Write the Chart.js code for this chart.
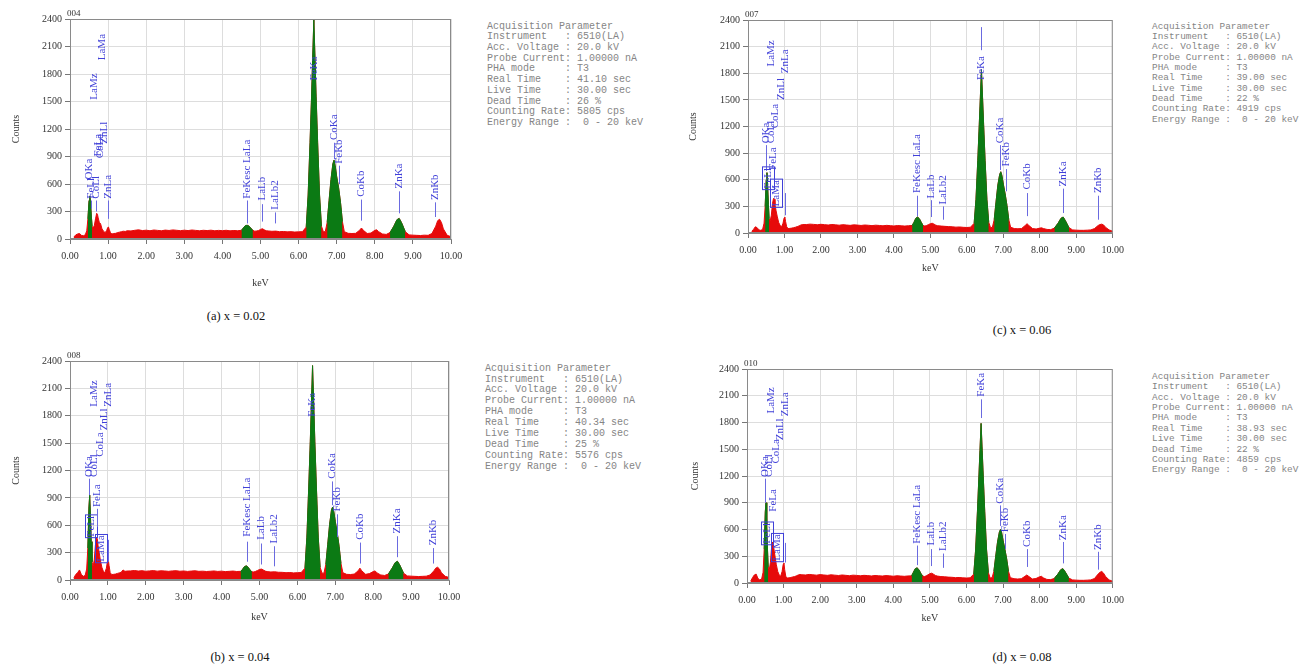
<!DOCTYPE html>
<html><head><meta charset="utf-8">
<script src="https://cdn.jsdelivr.net/npm/chart.js@4.4.0/dist/chart.umd.min.js"></script>
<style>
html,body{margin:0;padding:0;background:#fff;}
body{width:1299px;height:665px;position:relative;overflow:hidden;}
canvas{position:absolute;}
.params{position:absolute;font-family:"Liberation Mono",monospace;color:#858585;white-space:pre;margin:0;}
.cap{position:absolute;width:240px;text-align:center;font-family:"Liberation Serif",serif;font-size:12.5px;line-height:16px;color:#111;}
</style></head><body>
<script>
// ---- shared energy axis (keV) ----
const energy = [
 0.10,0.15,0.20,0.25,0.30,0.35,0.40,0.44,0.47,
 0.50,0.52,0.54,0.56,0.58,0.61,0.64,0.67,0.70,0.72,0.74,0.77,0.80,0.84,0.88,0.92,0.96,0.99,1.01,1.03,1.06,1.10,1.15,1.20,1.25,1.30,1.35,1.40,1.45,1.50,
 1.6,1.7,1.8,1.9,2.0,2.1,2.2,2.3,2.4,2.5,2.6,2.7,2.8,2.9,3.0,3.1,3.2,3.3,3.4,3.5,3.6,3.7,3.8,3.9,4.0,4.1,4.2,4.3,4.4,
 4.50,4.55,4.60,4.65,4.70,4.75,4.80,4.85,4.90,4.95,5.00,5.05,5.10,5.15,5.20,5.30,5.40,5.50,5.60,5.70,5.80,5.90,6.00,6.10,
 6.20,6.25,6.30,6.34,6.37,6.40,6.43,6.46,6.50,6.55,6.60,6.65,6.70,6.75,6.80,6.85,6.90,6.93,6.96,7.00,7.05,7.10,7.15,7.20,7.30,
 7.40,7.50,7.60,7.65,7.70,7.80,7.90,8.00,8.05,8.10,8.20,8.30,8.40,8.50,8.58,8.64,8.70,8.80,8.90,9.00,9.10,9.20,9.30,9.40,9.50,9.60,9.65,9.70,9.75,9.80,9.90,10.00
];

// ---- counts per sample ----
const countsA = [
 20,45,55,60,40,35,45,90,220,
 420,470,390,250,140, 120,150,220,280,270, 230,180,170,110,85, 70,90,125,130,105, 70,55,60,62,70, 75,80,85,82,90,
 88,95,100,92,96, 90,98,94,90,97, 93,99,95,91,96, 92,98,94,90,95, 92,96,90,94,91, 95,89,93,90,
 95,120,145,150,140, 115,95,85,88,92, 105,112,100,90,88, 84,86,80,82,78, 80,76,78,80,
 130,480,1050,1550,1980, 2390,1980,1550,1050,480, 140,80,80,180,420, 650,820,860,800,680, 560,400,190,80,62,
 60,62,95,120,95, 60,65,95,100,80, 55,50,70,140,210, 225,180,80,45,42, 40,38,42,40,60, 140,200,215,180,110, 40,25
];
const countsB = [
 20,60,80,110,60,40,50,120,350,
 800,930,700,420,200, 150,220,380,470,450, 380,300,220,140,95, 80,130,210,225,160, 80,60,62,65,72, 78,85,110,95,98,
 100,104,98,102,96, 100,103,97,101,99, 95,100,102,96,99, 94,98,101,95,97, 93,96,99,94,97, 92,95,98,93,
 95,115,145,155,140, 110,90,88,95,105, 115,120,110,98,92, 88,90,85,84,80, 82,78,80,82,
 130,470,1030,1520,1940, 2350,1940,1520,1030,470, 140,75,75,170,390, 610,770,800,750,640, 520,370,180,80,62,
 60,65,100,130,100, 62,70,92,100,78, 55,50,65,130,190, 205,165,75,45,42, 40,38,40,42,55, 100,130,140,120,80, 40,28
];
const countsC = [
 20,40,70,60,35,30,40,110,300,
 600,680,520,320,160, 140,200,330,390,380, 320,250,190,120,85, 70,110,170,180,130, 70,50,52,55,60, 65,72,80,90,95,
 95,100,97,93,98, 94,90,96,92,88, 94,90,86,92,89, 85,90,87,83,88, 85,81,86,83,79, 84,81,78,82,
 85,120,165,180,160, 120,85,78,85,95, 105,110,100,88,82, 78,75,72,70,66, 68,64,62,65,
 110,380,820,1220,1530, 1840,1530,1220,820,380, 120,60,65,150,350, 540,660,690,650,550, 440,310,150,65,50,
 48,50,85,105,85, 50,45,55,58,50, 40,38,55,110,165, 180,140,60,35,32, 30,30,32,35,50, 85,95,100,90,65, 35,20
];
const countsD = [
 20,60,90,100,50,35,45,120,380,
 800,900,650,380,180, 150,230,390,460,440, 370,290,210,130,90, 75,130,210,225,150, 75,55,58,62,68, 72,80,90,95,92,
 90,96,92,88,94, 90,86,92,88,84, 90,86,82,88,85, 81,86,83,79,84, 81,78,83,80,76, 81,78,75,79,
 80,120,160,170,150, 110,80,72,80,92, 105,110,98,85,78, 72,70,66,64,60, 62,58,56,58,
 100,370,800,1190,1490, 1790,1490,1190,800,370, 115,55,60,130,300, 460,570,600,570,480, 380,270,130,60,48,
 45,48,75,90,75, 45,50,70,75,58, 40,38,50,100,150, 160,125,55,35,32, 30,30,32,35,50, 100,120,130,110,75, 35,20
];

// element integration windows (keV) shown in green
const peakWindows = [[0.47,0.58],[4.50,4.80],[6.20,6.60],[6.75,7.15],[8.40,8.80]];

// tick labels
const xTicks = [0,1,2,3,4,5,6,7,8,9,10];
const yTicks = [0,300,600,900,1200,1500,1800,2100,2400];

// peak markers: [text, keV, line from (counts), line to (counts), text start (counts), boxed]
const labelsA = [
 ['OKa',0.50,null,null,650],['FeLl',0.54,330,420,440],['CoLl',0.68,300,420,440],
 ['FeLa',0.74,null,null,900],['CoLa',0.79,null,null,880],['LaMz',0.64,null,null,1520],
 ['LaMa',0.84,null,null,1950],['ZnLl',0.90,null,null,1040],['ZnLa',1.01,220,420,440],
 ['FeKesc LaLa',4.64,170,420,440],['LaLb',5.04,190,380,420],['LaLb2',5.38,170,290,320],
 ['FeKa',6.40,null,null,1730],['CoKa',6.93,870,1050,1080],['FeKb',7.06,600,800,820],
 ['CoKb',7.65,200,430,460],['ZnKa',8.64,280,520,550],['ZnKb',9.57,240,400,425]
];
const labelsB = [
 ['OKa',0.49,930,1110,1130],['FeLl',0.55,null,null,475,true],['CoLl',0.64,null,null,1130],
 ['FeLa',0.71,580,780,800],['CoLa',0.78,null,null,1350],['LaMz',0.64,null,null,1900],
 ['LaMa',0.83,null,null,200,true],['ZnLl',0.89,null,null,1640],['ZnLa',1.01,200,440,1900],
 ['FeKesc LaLa',4.66,200,420,475],['LaLb',5.04,170,400,440],['LaLb2',5.37,150,370,400],
 ['FeKa',6.39,null,null,1790],['CoKa',6.92,820,1080,1110],['FeKb',7.05,470,720,750],
 ['CoKb',7.65,180,410,440],['ZnKa',8.64,250,480,510],['ZnKb',9.58,180,350,380]
];
const labelsC = [
 ['OKa',0.49,700,990,1010],['FeLl',0.55,null,null,500,true],['CoLl',0.62,null,null,1010],
 ['FeLa',0.69,null,null,710],['CoLa',0.75,null,null,1180],['LaMz',0.62,null,null,1875],
 ['LaMa',0.78,null,null,300,true],['ZnLl',0.91,null,null,1500],['ZnLa',1.02,200,450,1800],
 ['FeKesc LaLa',4.63,190,420,450],['LaLb',5.02,180,370,390],['LaLb2',5.35,150,300,320],
 ['FeKa',6.38,2060,2320,1725],['CoKa',6.92,710,990,1010],['FeKb',7.06,470,720,750],
 ['CoKb',7.64,190,450,490],['ZnKa',8.64,225,500,525],['ZnKb',9.59,150,420,450]
];
const labelsD = [
 ['OKa',0.49,900,1170,1190],['FeLl',0.55,null,null,440,true],['CoLl',0.60,null,null,1190],
 ['FeLa',0.72,null,null,800],['CoLa',0.78,null,null,1340],['LaMz',0.65,null,null,1900],
 ['LaMa',0.82,null,null,250,true],['ZnLl',0.90,null,null,1600],['ZnLa',1.03,230,450,1870],
 ['FeKesc LaLa',4.65,200,420,440],['LaLb',5.03,190,380,420],['LaLb2',5.36,170,330,360],
 ['FeKa',6.41,1850,2060,2090],['CoKa',6.93,640,870,890],['FeKb',7.06,380,550,570],
 ['CoKb',7.65,180,380,405],['ZnKa',8.64,220,460,480],['ZnKb',9.59,150,350,370]
];

// acquisition parameter tables
const paramsA = ['41.10','30.00','26','5805'];
const paramsB = ['40.34','30.00','25','5576'];
const paramsC = ['39.00','30.00','22','4919'];
const paramsD = ['38.93','30.00','22','4859'];
const sampleIds = ['004','008','007','010'];
const captions = ['(a) x = 0.02','(b) x = 0.04','(c) x = 0.06','(d) x = 0.08'];

// ---- layout (positions / styles) ----
const RED = '#e60a0a', GREEN = '#0b7a14', BLUE = '#4040d8';
const panels = [
 {left:0,top:0,w:470,h:300,area:{l:70,r:451,t:19,b:239},yPad:10,xPad:11,counts:countsA,labels:labelsA,params:paramsA,id:sampleIds[0],
  text:{x:487,y:21.6,fs:10,lh:10.7},cap:captions[0],capPos:[236,316]},
 {left:0,top:340,w:470,h:300,area:{l:70,r:449,t:21,b:240},yPad:10,xPad:17,counts:countsB,labels:labelsB,params:paramsB,id:sampleIds[1],
  text:{x:485,y:363.6,fs:10,lh:10.9},cap:captions[1],capPos:[240,657]},
 {left:680,top:0,w:450,h:290,area:{l:68,r:436,t:20,b:233},yPad:7,xPad:16,counts:countsC,labels:labelsC,params:paramsC,id:sampleIds[2],
  text:{x:1152,y:21.9,fs:9.4,lh:10.3},cap:captions[2],capPos:[1022,330]},
 {left:680,top:350,w:450,h:290,area:{l:67,r:436,t:19,b:233},yPad:9,xPad:16,counts:countsD,labels:labelsD,params:paramsD,id:sampleIds[3],
  text:{x:1152,y:371.8,fs:9.4,lh:10.4},cap:captions[3],capPos:[1022,657]}
];

function paramLines(v){
 return ['Acquisition Parameter',
  'Instrument   : 6510(LA)',
  'Acc. Voltage : 20.0 kV',
  'Probe Current: 1.00000 nA',
  'PHA mode     : T3',
  'Real Time    : '+v[0]+' sec',
  'Live Time    : '+v[1]+' sec',
  'Dead Time    : '+v[2]+' %',
  'Counting Rate: '+v[3]+' cps',
  'Energy Range :  0 - 20 keV'].join('\n');
}

function labelPlugin(p){
 return {
  id:'peakLabels',
  afterDatasetsDraw(chart){
   const {ctx, chartArea:a, scales:{x,y}} = chart;
   ctx.save();
   ctx.strokeStyle = '#8a8a8a'; ctx.lineWidth = 1;
   ctx.strokeRect(a.left+0.5, a.top+0.5, a.right-a.left-1, a.bottom-a.top-1);
   ctx.beginPath(); ctx.rect(a.left, a.top, a.right-a.left, a.bottom-a.top); ctx.clip();
   ctx.font = '11px "Liberation Serif"';
   ctx.textAlign = 'left'; ctx.textBaseline = 'middle';
   for (const [t, e, lo, hi, st, box] of p.labels){
    const px = Math.round(x.getPixelForValue(e)) + 0.5;
    if (lo != null){
     ctx.strokeStyle = '#6a6ae0';
     ctx.beginPath(); ctx.moveTo(px, y.getPixelForValue(lo)); ctx.lineTo(px, y.getPixelForValue(hi)); ctx.stroke();
    }
    const py = y.getPixelForValue(st);
    ctx.save(); ctx.translate(px, py); ctx.rotate(-Math.PI/2);
    ctx.fillStyle = BLUE; ctx.fillText(t, 0, 0);
    if (box){ const w = ctx.measureText(t).width; ctx.strokeStyle = BLUE; ctx.strokeRect(-1, -6, w+2, 12); }
    ctx.restore();
   }
   ctx.restore();
   ctx.save();
   ctx.fillStyle = '#333'; ctx.font = '9px "Liberation Serif"';
   ctx.textAlign = 'left'; ctx.textBaseline = 'bottom';
   ctx.fillText(p.id, a.left - 3, a.top - 1);
   ctx.restore();
  }
 };
}

function build(p){
 const cv = document.createElement('canvas');
 cv.width = p.w; cv.height = p.h;
 cv.style.left = p.left+'px'; cv.style.top = p.top+'px';
 cv.style.width = p.w+'px'; cv.style.height = p.h+'px';
 document.body.appendChild(cv);
 const pts = energy.map((e,i)=>({x:e, y:p.counts[i]}));
 const datasets = peakWindows.map(([lo,hi])=>({
  data: pts.filter(q=>q.x>=lo-1e-9 && q.x<=hi+1e-9),
  borderColor: GREEN, backgroundColor: GREEN, fill:'origin', borderWidth:1, pointRadius:0, tension:0, order:0
 }));
 datasets.push({data: pts, borderColor: RED, backgroundColor: RED, fill:'origin', borderWidth:1, pointRadius:0, tension:0, order:1});
 const tickFont = {family:'Liberation Serif', size:10};
 new Chart(cv, {
  type:'line',
  data:{datasets},
  options:{
   responsive:false, animation:false, devicePixelRatio:1,
   layout:{padding:{left:0, top:p.area.t, right:p.w-p.area.r, bottom:0}},
   plugins:{legend:{display:false}, tooltip:{enabled:false}},
   scales:{
    x:{type:'linear', min:0, max:10,
     afterFit:s=>{s.height = p.h - p.area.b;},
     afterBuildTicks:s=>{s.ticks = xTicks.map(v=>({value:v}));},
     ticks:{callback:v=>Number(v).toFixed(2), font:tickFont, color:'#333', padding:6, maxRotation:0, autoSkip:false},
     grid:{color:'#dddddd', tickColor:'#777', tickLength:5},
     border:{display:true, color:'#888'},
     title:{display:true, text:'keV', font:tickFont, color:'#333', padding:p.xPad}},
    y:{type:'linear', min:0, max:2400,
     afterFit:s=>{s.width = p.area.l;},
     afterBuildTicks:s=>{s.ticks = yTicks.map(v=>({value:v}));},
     ticks:{callback:v=>String(v), font:tickFont, color:'#333', padding:3, autoSkip:false},
     grid:{color:'#dddddd', tickColor:'#777', tickLength:5},
     border:{display:true, color:'#888'},
     title:{display:true, text:'Counts', font:tickFont, color:'#333', padding:p.yPad}}
   }
  },
  plugins:[labelPlugin(p)]
 });
 const t = document.createElement('div');
 t.className = 'params';
 t.style.left = p.text.x+'px'; t.style.top = p.text.y+'px';
 t.style.fontSize = p.text.fs+'px'; t.style.lineHeight = p.text.lh+'px';
 t.textContent = paramLines(p.params);
 document.body.appendChild(t);
 const c = document.createElement('div');
 c.className = 'cap';
 c.style.left = (p.capPos[0]-120)+'px'; c.style.top = (p.capPos[1]-8)+'px';
 c.textContent = p.cap;
 document.body.appendChild(c);
}

[countsA,countsB,countsC,countsD].forEach((c,i)=>{ if(c.length!==energy.length) console.error('length mismatch', i, c.length, energy.length); });
panels.forEach(build);
</script>
</body></html>
